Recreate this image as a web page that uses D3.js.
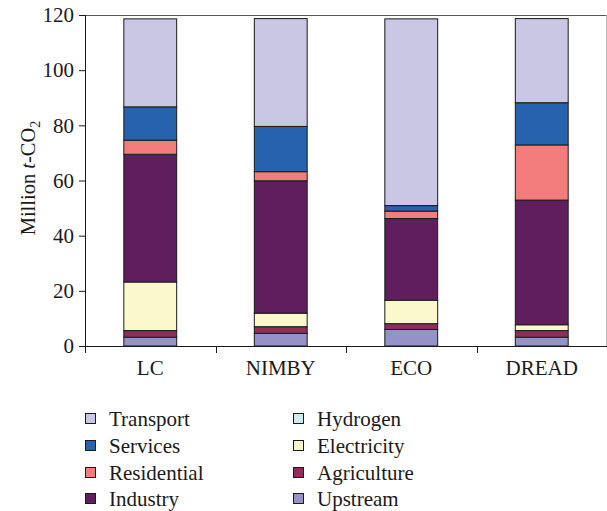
<!DOCTYPE html>
<html>
<head>
<meta charset="utf-8">
<script src="https://cdn.jsdelivr.net/npm/d3@7"></script>
<style>
  html, body { margin: 0; padding: 0; background: #fff; }
  svg { display: block; }
  text { font-family: "Liberation Serif", "DejaVu Serif", serif; fill: #1a1a1a; }
</style>
</head>
<body>
<svg id="chart" width="607" height="511"></svg>
<script>
// ---- data ----
const categories = ["LC", "NIMBY", "ECO", "DREAD"];
const sectors = ["Upstream", "Agriculture", "Hydrogen", "Electricity", "Industry", "Residential", "Services", "Transport"];
const upstream    = [3.2, 4.6, 6.0, 3.2];
const agriculture = [2.4, 2.4, 2.1, 2.4];
const hydrogen    = [0, 0, 0, 0];
const electricity = [17.6, 4.9, 8.5, 2.1];
const industry    = [46.3, 48.0, 29.6, 45.2];
const residential = [5.1, 3.3, 2.7, 20.0];
const services    = [12.1, 16.4, 2.0, 15.3];
const transport   = [31.9, 39.1, 67.7, 30.5];
const yTicks = [0, 20, 40, 60, 80, 100, 120];
const legendOrder = ["Transport", "Services", "Residential", "Industry", "Hydrogen", "Electricity", "Agriculture", "Upstream"];
const colors = {
  Transport: "#c9c7e3", Services: "#2762ac", Residential: "#f37d7c", Industry: "#5f1f5e",
  Hydrogen: "#cdeef0", Electricity: "#fbf8cd", Agriculture: "#8e2d5b", Upstream: "#9492c6"
};

const seriesValues = {
  Upstream: upstream, Agriculture: agriculture, Hydrogen: hydrogen, Electricity: electricity,
  Industry: industry, Residential: residential, Services: services, Transport: transport
};
const table = categories.map((c, i) => {
  const row = { category: c };
  sectors.forEach(s => row[s] = seriesValues[s][i]);
  return row;
});

const svg = d3.select("#chart");
const mLeft = 85, mRight = 607, mTop = 15, mBottom = 346;

const x = d3.scaleBand().domain(categories).range([mLeft, mRight]).padding(0);
const y = d3.scaleLinear().domain([0, 120]).range([mBottom, mTop]);
const barW = x.bandwidth() * 0.405;

const stacked = d3.stack().keys(sectors)(table);

// frame (top & right)
svg.append("line").attr("x1", mLeft).attr("x2", mRight).attr("y1", mTop + 0.5).attr("y2", mTop + 0.5)
  .attr("stroke", "#555").attr("stroke-width", 1);
svg.append("line").attr("x1", mRight - 0.5).attr("x2", mRight - 0.5).attr("y1", mTop).attr("y2", mBottom)
  .attr("stroke", "#bbb").attr("stroke-width", 1);

// bars
const g = svg.append("g");
stacked.forEach(layer => {
  g.append("g").selectAll("rect")
    .data(layer.filter(d => d[1] - d[0] > 0))
    .join("rect")
    .attr("x", d => x(d.data.category) + (x.bandwidth() - barW) / 2)
    .attr("width", barW)
    .attr("y", d => y(d[1]))
    .attr("height", d => y(d[0]) - y(d[1]))
    .attr("fill", colors[layer.key])
    .attr("stroke", "#1a1a1a")
    .attr("stroke-width", 1);
});

// y axis
const yAxis = d3.axisLeft(y).tickValues(yTicks).tickSize(6).tickPadding(5);
const ya = svg.append("g").attr("transform", `translate(${mLeft},0)`).call(yAxis);
ya.select(".domain").attr("stroke", "#1a1a1a").attr("d", `M0.5,${mTop}V${mBottom}`);
ya.selectAll(".tick line").attr("stroke", "#1a1a1a");
ya.selectAll(".tick text").style("font-family", '"Liberation Serif", serif').style("font-size", "21px").attr("fill", "#1a1a1a");

// x axis: ticks at band boundaries
const xa = svg.append("g").attr("transform", `translate(0,${mBottom})`);
xa.append("line").attr("x1", mLeft).attr("x2", mRight).attr("y1", 0.5).attr("y2", 0.5).attr("stroke", "#1a1a1a");
const boundaries = categories.map(c => x(c));
xa.selectAll(".bt").data(boundaries).join("line")
  .attr("x1", d => Math.round(d) + 0.5).attr("x2", d => Math.round(d) + 0.5)
  .attr("y1", 0).attr("y2", 7).attr("stroke", "#1a1a1a");
xa.selectAll(".cl").data(categories).join("text")
  .attr("x", d => x(d) + x.bandwidth() / 2)
  .attr("y", 29)
  .attr("text-anchor", "middle")
  .style("font-size", "21px")
  .text(d => d);

// y label
const yl = svg.append("text")
  .attr("transform", `translate(35,178) rotate(-90)`)
  .attr("text-anchor", "middle")
  .style("font-size", "20.5px");
yl.append("tspan").text("Million ");
yl.append("tspan").style("font-style", "italic").text("t");
yl.append("tspan").text("-CO");
yl.append("tspan").attr("dy", 5).style("font-size", "14px").text("2");

// legend
const legend = svg.append("g");
const colX = [85, 293];
const rowY = [419, 446, 473, 499];
legendOrder.forEach((name, i) => {
  const col = Math.floor(i / 4), row = i % 4;
  const lg = legend.append("g").attr("transform", `translate(${colX[col]},${rowY[row]})`);
  lg.append("rect").attr("x", 0.5).attr("y", -5.5).attr("width", 10).attr("height", 10)
    .attr("fill", colors[name]).attr("stroke", "#1a1a1a").attr("stroke-width", 1);
  lg.append("text").attr("x", 24).attr("y", 7).style("font-size", "21px").text(name);
});
</script>
</body>
</html>
